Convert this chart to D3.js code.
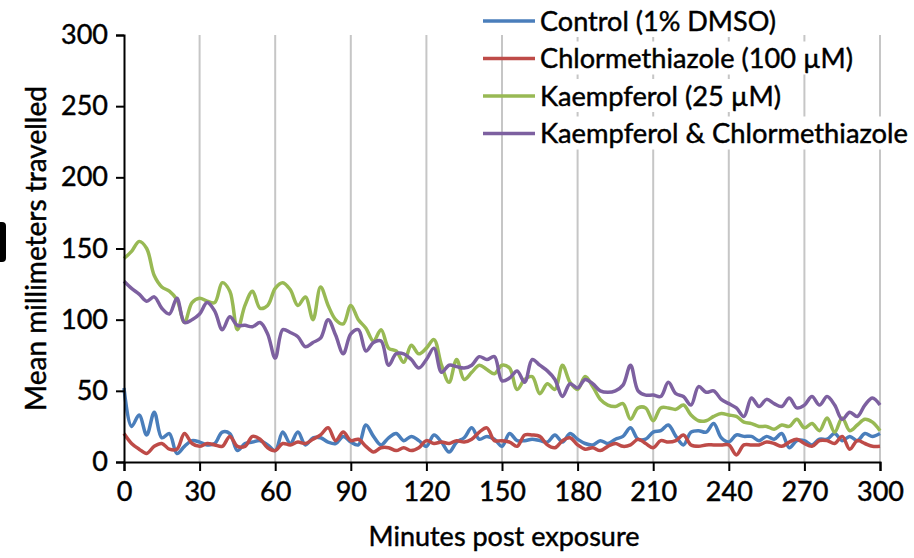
<!DOCTYPE html>
<html>
<head>
<meta charset="utf-8">
<title>Locomotion</title>
<script src="https://d3js.org/d3.v7.min.js"></script>
<style>
  body { margin: 0; background: #fff; }
  text { font-family: Lato, "Open Sans", sans-serif; fill: #000; stroke: #000; stroke-width: 0.45px; }
</style>
</head>
<body>
<script>

// minutes, sampled every 3 min
var minutes = d3.range(0, 301, 3);

var control = [52,25,33,19,35,17,20,6,11,15,14,12,13,21,20,8,13,14,15,12,
  8,21,13,21,12,17,17,14,13,18,14,12,26,18,12,17,20,15,18,15,
  11,19,14,7,14,17,24,16,18,16,11,20,15,15,16,15,14,19,14,20,
  16,13,12,15,13,16,18,24,16,16,21,22,26,18,12,21,22,21,27,17,
  14,19,18,18,15,18,16,20,10,15,15,12,16,16,20,15,18,15,20,18,20];

var chlor = [20,13,9,6,11,13,9,9,20,13,11,13,12,11,18,11,11,18,16,10,
  8,13,12,14,13,16,19,24,15,21,15,16,11,7,10,10,8,10,8,10,
  15,13,14,13,15,14,16,21,24,15,15,14,11,19,19,18,12,10,15,17,
  12,9,10,8,11,13,11,12,16,13,10,15,14,15,19,12,11,12,12,12,
  12,5,12,12,12,14,13,11,14,16,13,11,15,15,13,18,9,15,13,11,11];

var kaemp = [143,148,155,150,131,123,120,114,98,112,115,113,112,126,120,93,110,120,108,110,
  122,126,121,110,116,100,123,110,100,97,110,100,94,85,93,80,78,70,82,76,
  80,86,68,56,72,58,63,68,65,62,68,66,51,58,60,48,55,51,68,56,
  51,60,53,44,40,39,41,30,38,38,29,38,38,37,40,33,29,29,32,34,
  33,32,28,27,25,25,23,26,25,30,24,27,22,31,21,31,22,26,30,28,22];

var kaempChlor = [127,122,118,113,116,108,104,115,98,100,104,112,106,93,102,96,96,95,98,90,
  73,93,91,88,81,84,87,100,89,76,90,93,78,84,85,68,76,76,72,66,
  72,80,63,68,67,66,68,74,72,74,57,59,64,56,72,68,64,58,46,55,
  52,58,55,50,49,50,54,68,50,47,47,46,56,48,46,40,53,49,50,44,
  41,38,32,45,39,44,41,39,45,38,40,46,40,46,40,30,35,32,40,45,40];

var seriesNames = ["Control (1% DMSO)", "Chlormethiazole (100 \u00b5M)",
  "Kaempferol (25 \u00b5M)", "Kaempferol & Chlormethiazole"];
var seriesColors = ["#4a7ebb", "#be4b48", "#98b954", "#7d60a0"];
var legendWidths = [236, 313, 241, 368];
var xTicks = d3.range(0, 301, 30);
var yTicks = d3.range(0, 301, 50);

var W = 914, H = 558;
var margin = {top: 35, right: 34, bottom: 96, left: 124};

var svg = d3.select("body").append("svg")
  .attr("width", W)
  .attr("height", H);

var x = d3.scaleLinear().domain([0, 300]).range([margin.left, W - margin.right]);
var y = d3.scaleLinear().domain([0, 300]).range([H - margin.bottom, margin.top]);

// vertical gridlines
svg.append("g").selectAll("line")
  .data(xTicks.slice(1))
  .enter().append("line")
  .attr("x1", function(d){ return x(d); })
  .attr("x2", function(d){ return x(d); })
  .attr("y1", y(0))
  .attr("y2", y(300))
  .attr("stroke", "#c6c6c6")
  .attr("stroke-width", 2);

// black mark at left edge (cropped panel letter)
svg.append("rect")
  .attr("x", -6).attr("y", 222)
  .attr("width", 12).attr("height", 40)
  .attr("rx", 4)
  .attr("fill", "#000");

var allData = [control, chlor, kaemp, kaempChlor];

var line = d3.line()
  .x(function(d, i){ return x(minutes[i]); })
  .y(function(d){ return y(d); })
  .curve(d3.curveCatmullRom.alpha(0.5));

svg.append("g").selectAll("path")
  .data(allData)
  .enter().append("path")
  .attr("d", line)
  .attr("fill", "none")
  .attr("stroke", function(d, i){ return seriesColors[i]; })
  .attr("stroke-width", 3.5)
  .attr("stroke-linejoin", "round");

// axes
var xAxis = svg.append("g")
  .attr("transform", "translate(0," + y(0) + ")")
  .call(d3.axisBottom(x).tickValues(xTicks).tickSize(9).tickPadding(11));
var yAxis = svg.append("g")
  .attr("transform", "translate(" + x(0) + ",0)")
  .call(d3.axisLeft(y).tickValues(yTicks).tickSize(8).tickPadding(8));

[xAxis, yAxis].forEach(function(a){
  a.select(".domain").attr("stroke", "#000").attr("stroke-width", 2);
  a.selectAll(".tick line").attr("stroke", "#000").attr("stroke-width", 2);
  a.selectAll(".tick text").style("font-size", "27px")
    .style("font-family", "Lato, sans-serif").attr("fill", "#000");
});

svg.append("text")
  .attr("x", (x(0) + x(300)) / 2 + 2)
  .attr("y", 546)
  .attr("text-anchor", "middle")
  .style("font-size", "27px")
  .text("Minutes post exposure");

svg.append("text")
  .attr("transform", "translate(46," + y(150) + ") rotate(-90)")
  .attr("text-anchor", "middle")
  .style("font-size", "28px")
  .text("Mean millimeters travelled");

// legend
var legend = svg.append("g").selectAll("g")
  .data(seriesNames)
  .enter().append("g")
  .attr("transform", function(d, i){ return "translate(483," + (21 + i * 37.5) + ")"; });

legend.append("rect")
  .attr("x", 55).attr("y", -17)
  .attr("width", function(d, i){ return legendWidths[i] + 4; })
  .attr("height", 33)
  .attr("fill", "#fff");

legend.append("line")
  .attr("x1", 0).attr("x2", 52)
  .attr("stroke", function(d, i){ return seriesColors[i]; })
  .attr("stroke-width", 3.5);

legend.append("text")
  .attr("x", 57)
  .attr("dy", "0.36em")
  .attr("textLength", function(d, i){ return legendWidths[i]; })
  .attr("lengthAdjust", "spacingAndGlyphs")
  .style("font-size", "27px")
  .text(function(d){ return d; });

</script>
</body>
</html>
